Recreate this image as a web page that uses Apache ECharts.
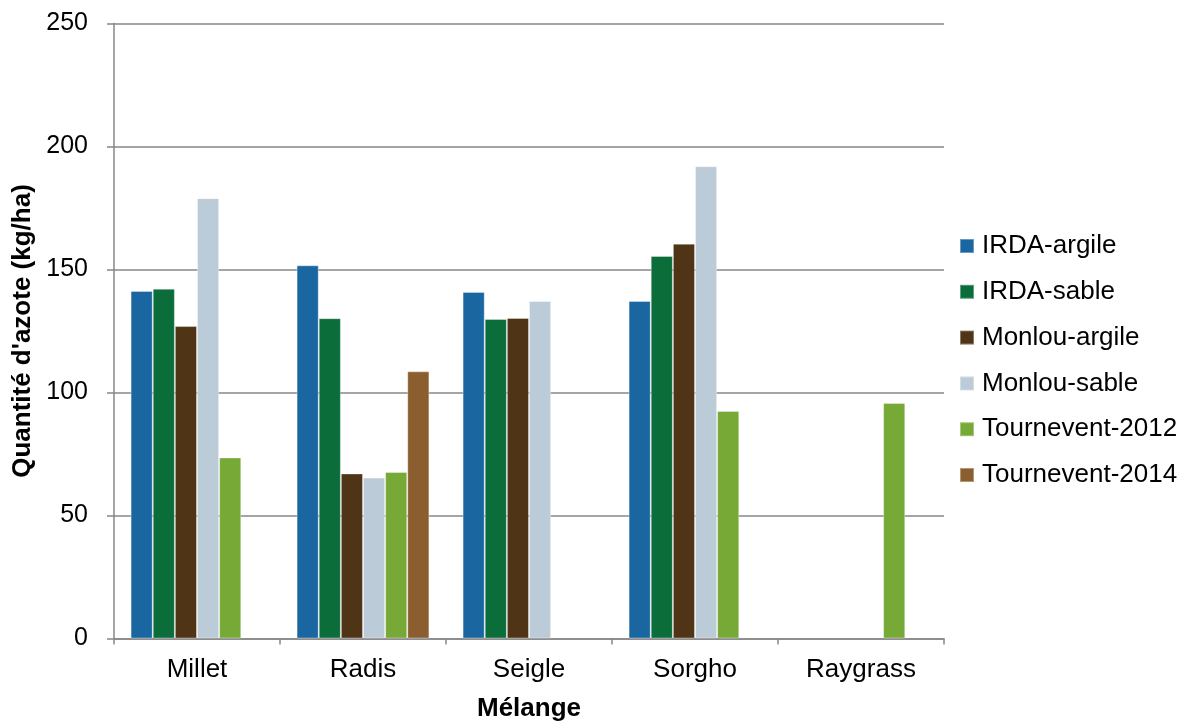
<!DOCTYPE html>
<html>
<head>
<meta charset="utf-8">
<script src="https://cdn.jsdelivr.net/npm/echarts@6/dist/echarts.min.js"></script>
<style>
  html, body { margin: 0; padding: 0; background: #fff; }
  #chart { width: 1193px; height: 725px; }
</style>
</head>
<body>
<div id="chart"></div>
<script>
// Nitrogen quantity per cover-crop mix and site
const categories = ['Millet', 'Radis', 'Seigle', 'Sorgho', 'Raygrass'];
const seriesNames = ['IRDA-argile', 'IRDA-sable', 'Monlou-argile', 'Monlou-sable', 'Tournevent-2012', 'Tournevent-2014'];
const irdaArgile     = [141.3, 151.7, 140.9, 137.2, null];
const irdaSable      = [142.2, 130.2, 129.9, 155.5, null];
const monlouArgile   = [127.0, 67.1, 130.3, 160.5, null];
const monlouSable    = [179.0, 65.4, 137.2, 192.0, null];
const tournevent2012 = [73.6, 67.7, null, 92.5, 95.7];
const tournevent2014 = [null, 108.6, null, null, null];
const yTicks = [0, 50, 100, 150, 200, 250];

const values = [irdaArgile, irdaSable, monlouArgile, monlouSable, tournevent2012, tournevent2014];
const colors = ['#1966a1', '#0a6d3a', '#4f3416', '#bccbd8', '#77a936', '#8b5e2f'];

const font = '"Liberation Sans", Arial, sans-serif';

const chart = echarts.init(document.getElementById('chart'));
chart.setOption({
  animation: false,
  textStyle: { fontFamily: font },
  grid: {
    left: 114, right: 249, top: 23.5, bottom: 86.5,
    containLabel: false,
    outerBoundsMode: 'none'
  },
  legend: {
    orient: 'vertical',
    left: 954,
    top: 228,
    itemWidth: 14,
    itemHeight: 14,
    itemGap: 19.8,
    icon: 'rect',
    textStyle: { fontFamily: font, fontSize: 26, color: '#000', lineHeight: 26, padding: [0, 0, 0, 3] },
    data: seriesNames
  },
  xAxis: {
    type: 'category',
    data: categories,
    name: 'Mélange',
    nameLocation: 'middle',
    nameGap: 57,
    nameTextStyle: { fontFamily: font, fontSize: 26, fontWeight: 'bold', color: '#000' },
    axisLine: { lineStyle: { color: '#878787', width: 1.5 } },
    axisTick: { show: true, length: 6, lineStyle: { color: '#878787', width: 1.5 } },
    axisLabel: { fontFamily: font, fontSize: 26, color: '#000', margin: 18 }
  },
  yAxis: {
    type: 'value',
    min: yTicks[0],
    max: yTicks[yTicks.length - 1],
    interval: yTicks[1] - yTicks[0],
    name: "Quantité d'azote (kg/ha)",
    nameLocation: 'middle',
    nameGap: 77,
    nameRotate: 90,
    nameTextStyle: { fontFamily: font, fontSize: 26, fontWeight: 'bold', color: '#000' },
    axisLine: { show: true, lineStyle: { color: '#878787', width: 1.5 } },
    axisTick: { show: true, length: 7, lineStyle: { color: '#878787', width: 1.5 } },
    axisLabel: { fontFamily: font, fontSize: 25, color: '#000', margin: 26 },
    splitLine: { show: true, lineStyle: { color: '#878787', width: 1.5 } }
  },
  series: seriesNames.map((name, i) => ({
    name: name,
    type: 'bar',
    data: values[i],
    barGap: '0%',
    barCategoryGap: '20%',
    itemStyle: { color: colors[i], borderColor: 'rgba(255,255,255,0.35)', borderWidth: 1 }
  }))
});
</script>
</body>
</html>
